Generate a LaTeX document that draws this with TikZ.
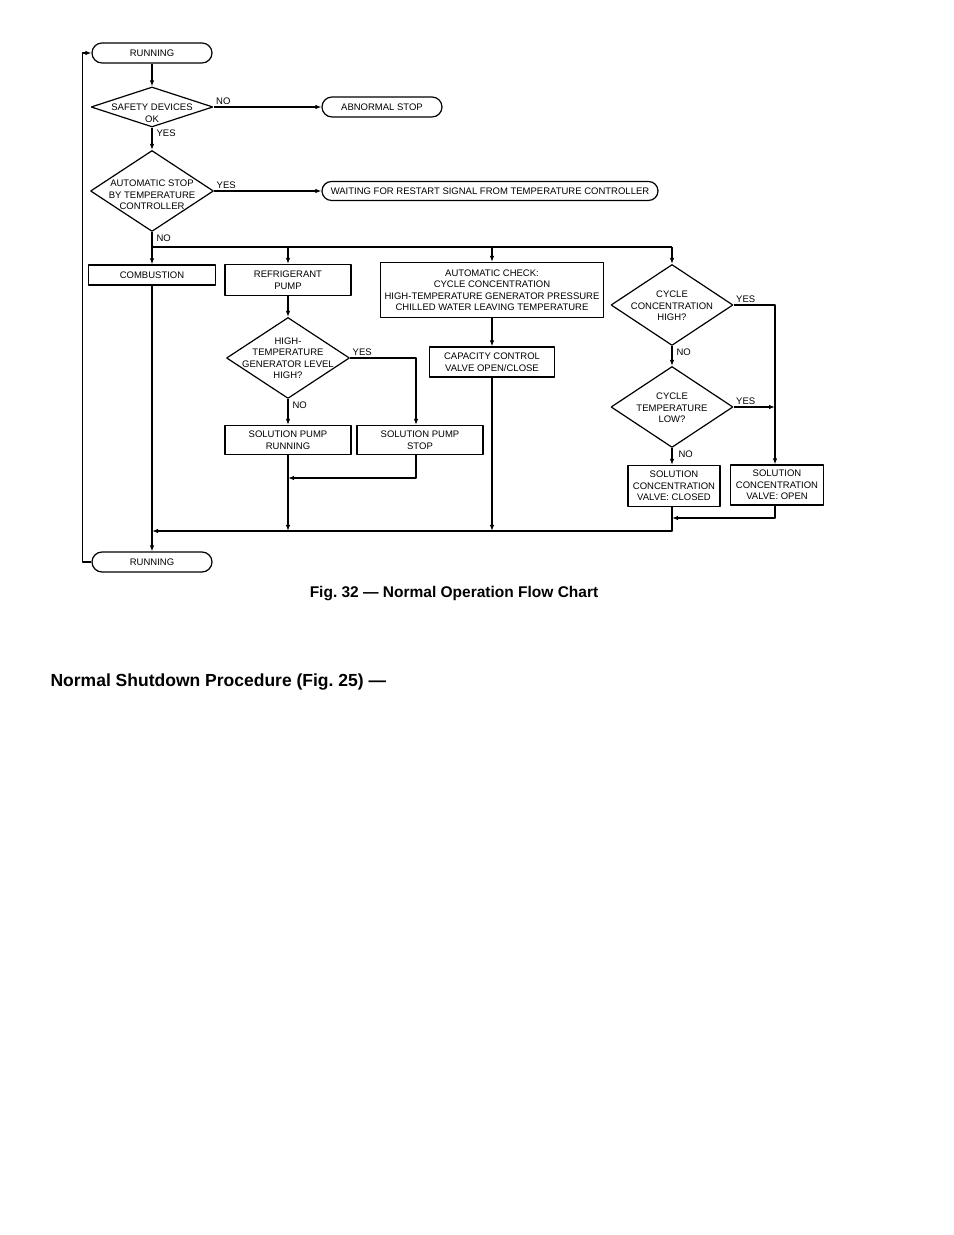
\documentclass[tikz,border=0pt]{standalone}
\usepackage{fontspec}
\setmainfont{Liberation Sans}
\usetikzlibrary{arrows.meta,shapes.geometric,shapes.misc}
\frenchspacing

\begin{document}
\begin{tikzpicture}[>={Latex[length=6bp,width=4.5bp]},line join=bevel,
  every node/.style={font=\fontsize{9.5bp}{11.5bp}\selectfont},
  term/.style={draw,rounded rectangle,minimum width=120bp,minimum height=20bp,inner sep=0pt},
  procbox/.style={draw,rectangle,align=center,inner sep=0pt},
  decision/.style={draw,diamond,minimum width=122bp,minimum height=81bp,inner sep=0pt},
  dtext/.style={align=center,inner sep=0pt},
  lbl/.style={inner sep=2bp,pos=0}]
\pgfsetlinewidth{1.2bp}
\pgfsetcolor{black}
\fill[white] (0bp,0bp) rectangle (954bp,1235bp);
\useasboundingbox (0bp,0bp) rectangle (954bp,1235bp);

% Node: run1
\node[term] (run1) at (152bp,1182bp) {RUNNING};
% Node: safety
\node[decision,minimum height=40bp] (safety) at (152bp,1128bp) {};
\node[dtext] (safetytxt) at ([yshift=-6bp]safety) {SAFETY DEVICES\\OK};
% Node: abn
\node[term] (abn) at (382bp,1128bp) {ABNORMAL STOP};
% Node: autostop
\node[decision,minimum width=123bp] (autostop) at (152bp,1044bp) {};
\node[dtext] (autostoptxt) at ([yshift=-4bp]autostop) {AUTOMATIC STOP\\BY TEMPERATURE\\CONTROLLER};
% Node: wait
\node[term,minimum width=336bp,minimum height=19bp] (wait) at (490bp,1044bp) {WAITING FOR RESTART SIGNAL FROM TEMPERATURE CONTROLLER};

% Node: comb
\node[procbox,minimum width=127bp,minimum height=20bp] (comb) at (152bp,960bp) {COMBUSTION};
% Node: refpump
\node[procbox,minimum width=126bp,minimum height=31bp] (refpump) at (288bp,955bp) {REFRIGERANT\\PUMP};
% Node: check
\node[procbox,minimum width=223bp,minimum height=55bp] (check) at (492bp,945bp) {AUTOMATIC CHECK:\\CYCLE CONCENTRATION\\HIGH-TEMPERATURE GENERATOR PRESSURE\\CHILLED WATER LEAVING TEMPERATURE};
% Node: conchigh
\node[decision] (conchigh) at (672bp,930bp) {};
\node[dtext] (conchightxt) at ([yshift=-1bp]conchigh) {CYCLE\\CONCENTRATION\\HIGH?};

% Node: genlevel
\node[decision,minimum width=123bp] (genlevel) at (288bp,877bp) {};
\node[dtext] (genleveltxt) at (genlevel) {HIGH-\\TEMPERATURE\\GENERATOR LEVEL\\HIGH?};
% Node: capctrl
\node[procbox,minimum width=125bp,minimum height=30bp] (capctrl) at (492bp,873bp) {CAPACITY CONTROL\\VALVE OPEN/CLOSE};
% Node: templow
\node[decision] (templow) at (672bp,828bp) {};
\node[dtext] (templowtxt) at ([yshift=-1bp]templow) {CYCLE\\TEMPERATURE\\LOW?};

% Node: sprun
\node[procbox,minimum width=126bp,minimum height=29bp] (sprun) at (288bp,795bp) {SOLUTION PUMP\\RUNNING};
% Node: spstop
\node[procbox,minimum width=126bp,minimum height=29bp] (spstop) at (420bp,795bp) {SOLUTION PUMP\\STOP};
% Node: valvec
\node[procbox,minimum width=92bp,minimum height=41bp] (valvec) at (674bp,749bp) {SOLUTION\\CONCENTRATION\\VALVE: CLOSED};
% Node: valveo
\node[procbox,minimum width=93bp,minimum height=40bp] (valveo) at (777bp,750bp) {SOLUTION\\CONCENTRATION\\VALVE: OPEN};

% Node: run2
\node[term] (run2) at (152bp,673bp) {RUNNING};

\coordinate (bus1) at (152bp,988bp);
\coordinate (bus2) at (152bp,704bp);
\coordinate (yes1) at (775bp,930bp);
\coordinate (join1) at (288bp,757bp);
\coordinate (join2) at (672bp,717bp);

% Edge: run1 -> safety
\draw[->] (run1.south) -- (safety.north);
% Edge: safety -> abn
\draw[->] (safety.east) -- node[lbl,anchor=south west] (nolbl1) {NO} (abn.west);
% Edge: safety -> autostop
\draw[->] (safety.south) -- node[lbl,anchor=north west,xshift=2bp] (yeslbl1) {YES} (autostop.north);
% Edge: autostop -> wait
\draw[->] (autostop.east) -- node[lbl,anchor=south west] (yeslbl2) {YES} (wait.west);
% Edge: autostop -> bus1
\draw (autostop.south) -- node[lbl,anchor=north west,xshift=2bp] (nolbl2) {NO} (bus1) -- (conchigh |- bus1);
\draw[->] (bus1) -- (comb.north);
\draw[->] (refpump |- bus1) -- (refpump.north);
\draw[->] (check |- bus1) -- (check.north);
\draw[->] (conchigh |- bus1) -- (conchigh.north);

% Edge: refpump -> genlevel
\draw[->] (refpump.south) -- (genlevel.north);
% Edge: genlevel -> spstop
\draw[->] (genlevel.east) -| node[lbl,anchor=south west] (yeslbl3) {YES} ([xshift=-4bp]spstop.north);
% Edge: genlevel -> sprun
\draw[->] (genlevel.south) -- node[lbl,anchor=north west,xshift=2bp] (nolbl3) {NO} (sprun.north);
% Edge: spstop -> join1
\draw[->] ([xshift=-4bp]spstop.south) |- (join1);
% Edge: sprun -> bus2
\draw[->] (sprun.south) -- (sprun |- bus2);

% Edge: check -> capctrl
\draw[->] (check.south) -- (capctrl.north);
% Edge: capctrl -> bus2
\draw[->] (capctrl.south) -- (capctrl |- bus2);

% Edge: conchigh -> valveo
\draw[->] (conchigh.east) -- node[lbl,anchor=south west] (yeslbl4) {YES} (yes1) -- (yes1 |- valveo.north);
% Edge: conchigh -> templow
\draw[->] (conchigh.south) -- node[lbl,anchor=north west,xshift=2bp] (nolbl4) {NO} (templow.north);
% Edge: templow -> yes1
\draw[->] (templow.east) -- node[lbl,anchor=south west] (yeslbl5) {YES} (templow.east -| yes1);
% Edge: templow -> valvec
\draw[->] (templow.south) -- node[lbl,anchor=north west,xshift=4bp] (nolbl5) {NO} (templow.south |- valvec.north);
% Edge: valveo -> join2
\draw[->] (yes1 |- valveo.south) |- (join2);
% Edge: valvec -> bus2
\draw[->] (templow.south |- valvec.south) -- (templow.south |- bus2) -- (bus2);

% Edge: comb -> run2
\draw[->] (comb.south) -- (run2.north);
% Edge: run2 -> run1
\draw[->] (run2.west) -- ++(-9bp,0bp) |- (run1.west);

% caption and heading
\node[font=\bfseries\fontsize{15.5bp}{18bp}\selectfont] (caption) at (454bp,641bp) {Fig. 32 --- Normal Operation Flow Chart};
\node[anchor=west,inner sep=0pt,font=\bfseries\fontsize{17.5bp}{20bp}\selectfont] (heading) at (50bp,553bp) {Normal Shutdown Procedure (Fig. 25) ---};
%
\end{tikzpicture}
\end{document}
